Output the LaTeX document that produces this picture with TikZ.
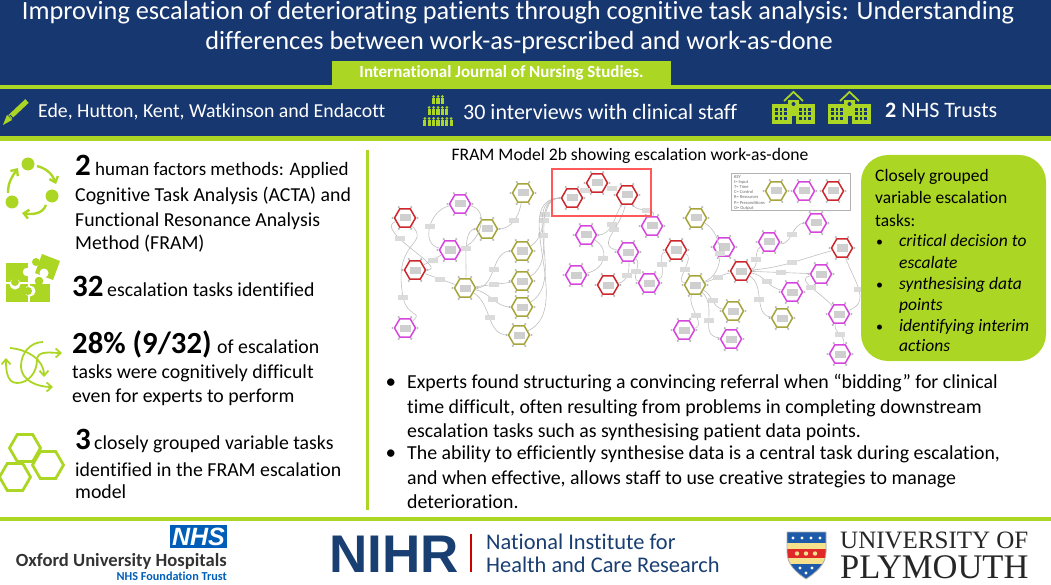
\documentclass[tikz,border=0pt]{standalone}
\usepackage{fontspec}
\setmainfont{Carlito}[Ligatures=NoCommon]
\newfontfamily\sansfont{Liberation Sans}
\newfontfamily\serifont{Liberation Serif}
\usetikzlibrary{shapes.geometric,arrows.meta}
\definecolor{navyband}{RGB}{23,55,112}
\definecolor{limeband}{RGB}{172,214,36}
\definecolor{framred}{RGB}{205,40,45}
\definecolor{frampink}{RGB}{215,70,220}
\definecolor{framolive}{RGB}{165,165,60}
\definecolor{nihrblue}{RGB}{25,62,114}
\definecolor{nhsblue}{RGB}{0,94,184}
\definecolor{shieldblue}{RGB}{30,90,170}
\definecolor{shieldred}{RGB}{225,40,40}
\definecolor{shieldgold}{RGB}{245,225,140}
\tikzset{
	titletext/.style={font=\fontsize{26.3}{28}\selectfont,text=white,anchor=base,inner sep=0pt},
	headtext/.style={font=\fontsize{22}{24}\selectfont,text=white,anchor=base west,inner sep=0pt},
	bodytext/.style={font=\fontsize{19.8}{22}\selectfont,anchor=base west,inner sep=0pt},
	boxtext/.style={font=\fontsize{17.5}{19}\selectfont,anchor=base west,inner sep=0pt},
	bullettext/.style={font=\fontsize{19.85}{22}\selectfont,anchor=base west,inner sep=0pt},
	bignum/.style={font=\fontsize{31}{33}\selectfont\bfseries,anchor=base west,inner sep=0pt},
	limeline/.style={draw=limeband,line width=2.4,-{Straight Barb[length=5,width=9]}},
	framhex/.style={shape=regular polygon,regular polygon sides=6,
		minimum size=21,inner sep=0pt,fill=white,line width=1.5},
	framtag/.style={fill=gray!28,inner sep=0pt,minimum width=10,minimum height=5},
	framlink/.style={draw=gray!50,line width=0.6},
}
\begin{document}
\begin{tikzpicture}[x=1pt,y=-1pt]
\useasboundingbox (0,0) rectangle (1051,585);
% bands
\fill [navyband] (0,0) rectangle (1051,85);
\fill [limeband] (0,85) rectangle (1051,89);
\fill [navyband] (0,89) rectangle (1051,136);
\fill [limeband] (0,136) rectangle (1051,141);
\fill [limeband] (0,517) rectangle (1051,521);
\fill [limeband] (365.5,150) rectangle (368.5,510);
\node (journal) [fill=limeband,text=white,minimum width=339,minimum height=24,inner sep=0pt,
	font=\fontsize{17}{19}\selectfont\bfseries] at (501.5,73) {International Journal of Nursing Studies.};
\node (titleone) [titletext] at (518,20) {Improving escalation of deteriorating patients through cognitive task analysis: Understanding};
\node (titletwo) [titletext] at (519,50) {differences between work-as-prescribed and work-as-done};

% header row
\node (authors) [headtext,font=\fontsize{19.8}{22}\selectfont] at (38,118) {Ede, Hutton, Kent, Watkinson and Endacott};
\node (interviews) [headtext] at (463,120) {30 interviews with clinical staff};
\node (trusts) [headtext] at (885,118) {\textbf{2} NHS Trusts};
\draw [limeband,line width=5] (10,117) -- (27,101);
\fill [limeband] (7,115) -- (3,125) -- (12,120) -- cycle;
\draw [navyband,line width=0.8] (10,115) -- (14,119);
\foreach \y/\n in {100/3,111/5,122/7} {
	\foreach \i in {1,...,\n} {
		\fill [limeband] ({438+(\i-(\n+1)/2)*4.4},\y-3.5) circle (1.5);
		\fill [limeband] ({438+(\i-(\n+1)/2)*4.4-1.6},\y-1.8) rectangle ({438+(\i-(\n+1)/2)*4.4+1.6},\y+4.5);
	}
}
\foreach \x in {772,828} {
	\fill [limeband] (\x,104) rectangle (\x+43,124);
	\fill [limeband] (\x+16,100) rectangle (\x+27,108);
	\draw [limeband,line width=1.8] (\x+12,101) -- (\x+21.5,92) -- (\x+31,101);
	\fill [navyband] (\x+21.5,104) circle (2);
	\fill [navyband] (\x+19.5,116) rectangle (\x+23.5,124);
	\foreach \wx in {3,7.5,12,27,31.5,36} {
		\foreach \wy in {108,112.5,117} {
			\fill [navyband] (\x+\wx,\wy) rectangle (\x+\wx+2.8,\wy+3);
		}
	}
}

% left column
\fill [limeband] (28,164) circle (6.5);
\fill [limeband] (52,196) circle (6.5);
\fill [limeband] (12,202) circle (6.5);
\draw [limeline] (37,166) to[out=-15,in=110] (56,184);
\draw [limeline] (46,205) to[out=-110,in=-10] (22,213);
\draw [limeline] (8,193) to[out=90,in=-125] (18,168);

% puzzle
\fill [limeband] (6,263) rectangle (28,282);
\fill [white] (27,272) circle (4.2);
\fill [limeband] (6,284) rectangle (28,302);
\fill [limeband] (30,284) rectangle (50,302);
\fill [limeband] (39,281) circle (4.3);
\fill [white] (30,291) circle (5.5);
\fill [limeband] (28,291) circle (4);
\fill [white] (15,284) circle (5.5);
\fill [limeband] (15,282) circle (4);
\fill [limeband] (42,254) -- (60,261) -- (53,280) -- (35,273) -- cycle;
\fill [limeband] (36,262) circle (4);
\fill [white] (44,273) circle (4.5);

% arrows
\draw [limeline,line width=1.8] (43,342) to[out=180,in=90] (21,366) to[out=-90,in=180] (53,387);
\draw [limeline,line width=1.8] (10,348) to[out=-5,in=90] (44,377);
\draw [limeline,line width=1.8,{Straight Barb[length=5,width=9]}-{Straight Barb[length=5,width=9]}] (6,358) to[out=-90,in=180] (17,383) to[out=0,in=-90] (37,360) to[out=90,in=180] (62,353);

\foreach \hexname/\x/\y in {hexa/25/448,hexb/15/477,hexc/48/465} {
	\node (\hexname) [shape=regular polygon,regular polygon sides=6,
		minimum size=31,draw=limeband,line width=2.8,inner sep=0pt] at (\x,\y) {};
}

\node (numa) [bignum] at (75,176) {2};
\node (lineone) [bodytext,font=\fontsize{19}{21}\selectfont] at (95,176) {human factors methods: Applied};
\node (linetwo) [bodytext] at (75,202) {Cognitive Task Analysis (ACTA) and};
\node (linethree) [bodytext] at (75,226) {Functional Resonance Analysis};
\node (linefour) [bodytext] at (75,250) {Method (FRAM)};
\node (numb) [bignum] at (72,296) {32};
\node (linefive) [bodytext] at (107,296) {escalation tasks identified};
\node (numc) [bignum,font=\fontsize{30.7}{32}\selectfont\bfseries] at (72,353) {28\% (9/32)};
\node (linesix) [bodytext] at (217,353) {of escalation};
\node (lineseven) [bodytext] at (72,378) {tasks were cognitively difficult};
\node (lineeight) [bodytext] at (72,402) {even for experts to perform};
\node (numd) [bignum] at (75,449) {3};
\node (linenine) [bodytext] at (94,449) {closely grouped variable tasks};
\node (lineten) [bodytext] at (75,476) {identified in the FRAM escalation};
\node (lineeleven) [bodytext] at (75,498) {model};

% FRAM model
\node (framtitle) [font=\fontsize{17.6}{19}\selectfont,anchor=base,inner sep=0pt] at (630,160.5) {FRAM Model 2b showing escalation work-as-done};
\foreach \hexname/\x/\y/\kind in {
	ra/405/218/framred,pa/460/204/frampink,oa/523/193/framolive,pb/450/250/frampink,ob/487/229/framolive,
	rb/415/270/framred,oc/465/288/framolive,od/522/251/framolive,oe/522/281/framolive,of/522/307/framolive,
	og/519/335/framolive,pc/405/328/frampink,rc/572/198/framred,rd/597/183/framred,re/627/195/framred,
	pd/586/235/frampink,pe/576/275/frampink,rf/608/285/framred,pf/628/252/frampink,pg/649/283/frampink,
	ph/652/226/frampink,rg/676/250/framred,oh/696/218/framolive,oi/695/285/framolive,pi/684/330/frampink,
	pj/724/247/frampink,rh/741/271/framred,pk/769/242/frampink,pl/816/223/frampink,ri/842/248/framred,
	pm/821/274/frampink,pn/792/292/frampink,oj/782/318/framolive,po/839/314/frampink,pp/840/354/frampink,
	ok/733/311/framolive,pq/731/339/frampink,keya/776/191/framolive,keyb/804/191/frampink,keyc/833/191/framred} {
	\foreach \a in {0,60,...,300}
		\fill [gray!55] (\x,\y) ++(\a:12.5pt) circle (1.2);
	\node (\hexname) [framhex,draw=\kind] at (\x,\y) {};
	\fill [gray!38] (\x-5.5,\y-3.5) rectangle (\x+5.5,\y+3.5);
}
\draw [framlink] (ra) to[out=200,in=0,looseness=1.1] node [framtag,pos=0.35] {} (rb);
\draw [framlink] (ra) .. controls (430,245) and (395,240) .. (402,290) .. controls (404,320) and (425,310) .. node [framtag,pos=0.1] {} (pc);
\draw [framlink] (rb) -- node [framtag] {} (pb);
\draw [framlink] (rb) -- node [framtag] {} (oc);
\draw [framlink] (pb) to[out=170,in=190,looseness=1.2] node [framtag] {} (pa);
\draw [framlink] (pb) to[out=10,in=-10,looseness=1.2] (pa);
\draw [framlink] (oc) to[out=85,in=180,looseness=0.7] node [framtag] {} (ob);
\draw [framlink] (ob) to[out=0,in=-100] node [framtag] {} (oa);
\draw [framlink] (oc) to[out=0,in=180] node [framtag] {} (od);
\draw [framlink] (oc) -- node [framtag] {} (oe);
\draw [framlink] (oc) to[out=-10,in=180] node [framtag] {} (of);
\draw [framlink] (oc) to[out=-30,in=180] node [framtag] {} (og);
\draw [framlink] (od) to[out=30,in=180] node [framtag,pos=0.55] {} (rc);
\draw [framlink] (oe) to[out=30,in=180] node [framtag,pos=0.6] {} (rc);
\draw [framlink] (of) to[out=30,in=180] node [framtag,pos=0.55] {} (rc);
\draw [framlink] (og) to[out=25,in=180] (rc);
\draw [framlink] (rc) -- node [framtag] {} (rd);
\draw [framlink] (rd) -- node [framtag] {} (re);
\draw [framlink] (re) to[out=-60,in=80] node [framtag,pos=0.55] {} (ph);
\draw [framlink] (re) to[out=-120,in=0] node [framtag] {} (pd);
\draw [framlink] (pd) to[out=-30,in=10,looseness=1.4] node [framtag] {} (pe);
\draw [framlink] (pf) to[out=170,in=-100,looseness=1.3] node [framtag,pos=0.6] {} (re);
\draw [framlink] (pf) to[out=-85,in=10] node [framtag] {} (rf);
\draw [framlink] (pf) to[out=-40,in=170] node [framtag] {} (pg);
\draw [framlink] (pg) to[out=20,in=190] node [framtag] {} (rg);
\draw [framlink] (rg) to[out=-20,in=170] node [framtag] {} (oi);
\draw [framlink] (oh) to[out=-30,in=20] node [framtag] {} (oi);
\draw [framlink] (oi) to[out=15,in=-170] node [framtag] {} (rh);
\draw [framlink] (oi) to[out=-110,in=10] node [framtag] {} (pi);
\draw [framlink] (oi) to[out=-30,in=170] node [framtag] {} (ok);
\draw [framlink] (oi) to[out=-45,in=175,looseness=1.2] node [framtag] {} (pq);
\draw [framlink] (rh) to[out=10,in=-150] node [framtag] {} (pk);
\draw [framlink] (pk) to[out=-10,in=180] node [framtag] {} (pl);
\draw [framlink] (rh) to[out=5,in=195] node [framtag] {} (ri);
\draw [framlink] (rh) -- node [framtag] {} (pm);
\draw [framlink] (rh) to[out=-10,in=170] node [framtag] {} (pn);
\draw [framlink] (rh) to[out=-30,in=175] node [framtag] {} (oj);
\draw [framlink] (ri) to[out=-70,in=20,looseness=1.2] node [framtag] {} (po);
\draw [framlink] (pm) to[out=190,in=130,looseness=1.2] node [framtag] {} (po);
\draw [framlink] (po) to[out=-110,in=70] node [framtag] {} (pp);
\node (hilite) [draw=red!65!white,line width=1.2,minimum width=99,minimum height=47,inner sep=0pt] at (601.5,192.5) {};
\node (keybox) [draw=gray!60,line width=0.8,minimum width=119,minimum height=37,inner sep=0pt] at (790.5,191.5) {};
\node (keytext) [font=\fontsize{4.5}{5.2}\selectfont,align=left,text=gray!80!black,anchor=north west,inner sep=0pt] at (734,175)
	{KEY\\I= Input\\T= Time\\C= Control\\R= Resources\\P= Preconditions\\O= Output};

% green box
\node (greenbox) [fill=limeband,rounded corners=27,minimum width=185,minimum height=206,inner sep=0pt] at (953.5,258) {};
\foreach \y/\line in {182/{Closely grouped},204/{variable escalation},226/{tasks:}}
	\node [boxtext] at (875,\y) {\line};
\foreach \y in {247,289,331}
	\node [boxtext,font=\fontsize{14}{14}\selectfont] at (876,\y) {\textbullet};
\foreach \y/\line in {247/{critical decision to},268/{escalate},289/{synthesising data},310/{points},331/{identifying interim},351/{actions}}
	\node [boxtext,font=\fontsize{17.5}{19}\selectfont\itshape] at (899,\y) {\line};

% bullets
\foreach \y in {388,459}
	\node [bullettext,font=\fontsize{21}{21}\selectfont] at (385.5,\y) {\textbullet};
\foreach \y/\line in {388/{Experts found structuring a convincing referral when “bidding” for clinical},
	413/{time difficult, often resulting from problems in completing downstream},
	437/{escalation tasks such as synthesising patient data points.},
	459/{The ability to efficiently synthesise data is a central task during escalation,},
	484/{and when effective, allows staff to use creative strategies to manage},
	508/{deterioration.}}
	\node [bullettext] at (407,\y) {\line};

% logos
\node (nhsbox) [fill=nhsblue,text=white,minimum width=57,minimum height=23,inner sep=0pt,
	font=\sansfont\fontsize{25}{25}\selectfont\bfseries\itshape] at (198.5,536.5) {NHS};
\node (oxford) [font=\fontsize{18.6}{20}\selectfont\bfseries,text=black!80,anchor=base east,inner sep=0pt] at (227,566) {Oxford University Hospitals};
\node (nhstrust) [font=\fontsize{12.2}{14}\selectfont\bfseries,text=nhsblue,anchor=base east,inner sep=0pt] at (227,580) {NHS Foundation Trust};
\node (nihr) [font=\sansfont\fontsize{53}{53}\selectfont\bfseries,text=nihrblue,anchor=base west,inner sep=0pt] at (329,572) {NIHR};
\fill [red!80!black] (470,534) rectangle (472,572);
\node (nihrone) [font=\fontsize{22.4}{25}\selectfont,text=nihrblue,anchor=base west,inner sep=0pt] at (486,549) {National Institute for};
\node (nihrtwo) [font=\fontsize{22.4}{25}\selectfont,text=nihrblue,anchor=base west,inner sep=0pt] at (486,572) {Health and Care Research};
% shield
\begin{scope}
	\clip (787,532) -- (826,532) -- (826,552) .. controls (826,565) and (815,573) .. (806,579) .. controls (797,573) and (787,565) .. (787,552) -- cycle;
	\fill [shieldblue] (780,525) rectangle (835,585);
	\fill [shieldgold] (780,543) rectangle (835,564);
	\fill [shieldred] (780,549) rectangle (835,558);
	\foreach \x in {793,802,811,820}
		\fill [white] (\x,538) circle (1.6);
	\foreach \x in {797,806,815}
		\fill [shieldgold] (\x,553.5) circle (2.2);
	\foreach \x/\y in {800/568,806/573,812/568}
		\fill [white] (\x,\y) circle (1.6);
\end{scope}
\draw [gray!60,line width=0.8] (787,532) -- (826,532) -- (826,552) .. controls (826,565) and (815,573) .. (806,579) .. controls (797,573) and (787,565) .. (787,552) -- cycle;
\node (plyone) [font=\serifont\fontsize{25}{27}\selectfont,text=black!85,anchor=base west,inner sep=0pt] at (840,548) {UNIVERSITY OF};
\node (plytwo) [font=\serifont\fontsize{34.5}{36}\selectfont,text=black!85,anchor=base west,inner sep=0pt] at (840,578) {PLYMOUTH};
\end{tikzpicture}
\end{document}
